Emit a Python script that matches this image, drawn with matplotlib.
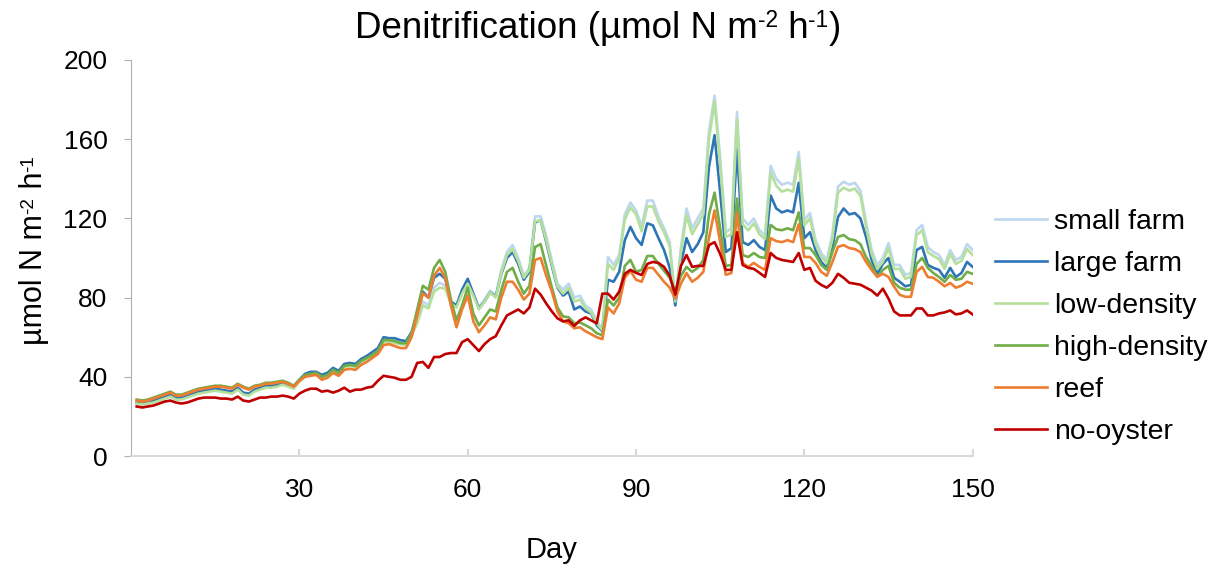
import numpy as np
import matplotlib
matplotlib.use("Agg")
import matplotlib.pyplot as plt
from matplotlib.transforms import offset_copy

plt.rcParams['font.family'] = ['Liberation Sans', 'DejaVu Sans']

# values, day 1..150
days = np.arange(1, 151)

small_farm = [
    26.5, 26, 26.5, 27.5, 28.5, 29.5, 30.5, 29, 29, 30,
    31, 32, 32.5, 33, 33.5, 33, 32.5, 32, 34, 31.5,
    31, 33, 34, 35, 35, 35.5, 36.5, 35.5, 34.5, 38,
    41, 42, 42, 40.5, 41.5, 44, 42.5, 46, 46.5, 46,
    48.5, 50, 52, 54, 59, 59, 59, 58, 57.5, 62,
    69, 78, 76, 85, 87.5, 86, 78, 76, 83, 88,
    82, 75, 79, 83.5, 81, 94, 103, 106.5, 100, 91,
    95, 121, 121, 111, 98.5, 87, 84, 87, 80, 81,
    76, 74, 68, 64, 100.5, 96.5, 101.5, 122, 128, 124,
    116, 129, 129, 121, 115, 108, 77.8, 105, 125, 115,
    120, 125, 164, 182, 150.5, 113, 115, 173.7, 120, 116.7,
    120, 114, 111.6, 146.5, 140, 137, 138, 137, 153.5, 119,
    122.7, 109, 102.5, 99, 112, 136, 138.5, 137, 138, 134,
    118, 104, 96.5, 100, 107.5, 96.5, 96.5, 91.5, 92.4, 114,
    116.7, 105.6, 103, 101.5, 96.5, 104, 99, 100.5, 107, 104]

large_farm = [
    27, 26.5, 27, 28, 29, 30, 31, 29.5, 29.5, 30.5,
    31.5, 32.5, 33, 33.5, 34, 33.5, 33, 32.5, 34.5, 32,
    31.5, 33.5, 34.5, 35.5, 35.5, 36, 37, 36, 35, 38.5,
    41.5, 42.5, 42.5, 41, 42, 44.5, 43, 46.5, 47, 46.5,
    49, 50.5, 52.5, 54.5, 60, 59.5, 59.5, 58.5, 58, 62.5,
    72, 83, 80, 90, 92, 89.5, 78, 76, 84, 89.5,
    82, 74.5, 78, 82.5, 80.5, 92, 100, 103, 97, 89,
    93, 118, 119, 108, 96, 85, 81, 83, 74, 75.5,
    73, 72, 66, 63, 89, 88, 93, 109, 115.7, 110,
    106.6, 117.5, 116.5, 110, 104, 95, 76, 97, 110, 103,
    107, 113, 146, 162, 133, 103, 105, 155, 108, 106.6,
    109, 105.6, 104, 131.5, 125, 123, 124, 123, 138, 110,
    113, 104, 98, 95, 105.6, 120.7, 125, 122, 122.7, 120,
    110.6, 99, 92, 97, 100, 90, 88, 85.7, 86.4, 104,
    105.6, 96.5, 95, 94, 90, 95, 90.4, 92.4, 98, 95.5]

low_density = [
    26.5, 26, 26.5, 27, 28, 29, 30, 28.5, 28.5, 29.5,
    30.5, 31.5, 32, 32.5, 33, 32.5, 32, 31.5, 33.5, 31,
    30.5, 32.5, 33.5, 34.5, 34.5, 35, 36, 35, 34, 37.5,
    40, 41, 41, 39.5, 40.5, 43, 41.5, 45, 45.5, 45,
    47.5, 49, 51, 53, 57.5, 57.5, 57, 56.5, 56, 61,
    67, 76, 74.5, 83, 85, 84.5, 77, 75, 82, 87,
    81, 74, 78, 82.5, 80, 92.5, 101.5, 104.5, 98.5, 90,
    94, 118.5, 119, 109, 97, 85.5, 82, 85, 78, 79,
    74.5, 72.5, 67, 63.5, 97, 94, 99.5, 119.5, 125.5, 122,
    113.5, 126, 126, 118.5, 113, 106, 78, 103, 121.5, 112,
    117, 122, 160, 179, 147, 110.5, 112, 170, 117, 114,
    117.5, 112, 109.5, 143, 136.5, 133.5, 134.5, 133.5, 150, 116.5,
    120, 107, 100.5, 97.5, 109.5, 133, 135.5, 134, 135, 131.5,
    116, 102, 94.5, 98, 105, 94.5, 94.5, 89.5, 90.5, 111.5,
    114, 103, 101, 99.5, 94.5, 102, 97, 98.5, 104.5, 101.5]

high_density = [
    28.5, 28, 28.5, 29.5, 30.5, 31.5, 32.5, 31, 31, 32,
    33, 34, 34.5, 35, 35.5, 35.5, 35, 34.5, 36.5, 35,
    34, 35.5, 36, 37, 37, 37.5, 38, 37, 35.5, 38.5,
    41, 41.5, 42, 40, 41, 43.5, 42, 45.5, 46, 45.5,
    48, 49.5, 51, 53, 58.5, 58.5, 58, 57, 57, 62,
    74, 86, 84, 95, 99, 93, 79, 68.5, 76, 85,
    72, 66, 70, 74, 73, 84, 93, 95, 88, 82,
    86, 105.5, 107, 96, 85, 75, 70.5, 70, 67, 67.5,
    66, 64.5, 62, 61, 79, 76, 80, 96, 99, 93,
    94, 101, 101, 97, 93.5, 90, 83, 91, 95.5, 93,
    95, 99, 122, 133, 115, 96, 96.5, 130, 101.5, 100.5,
    102.5, 100.5, 100, 116.7, 114.5, 114, 115, 114, 123, 105,
    105, 101.5, 96.5, 94, 103, 110.6, 111.6, 109.5, 109, 107,
    100.5, 96, 90.5, 94, 96, 87.5, 85, 84, 84, 97,
    100, 95, 92.4, 90.4, 88, 91.4, 89, 89.5, 93, 92]

reef = [
    28, 27.5, 28, 29, 30, 31, 32, 30.5, 30.5, 31.5,
    32.5, 33.5, 34, 34.5, 35, 35, 34.5, 34, 36, 34.5,
    33.5, 35, 35.5, 36.5, 36.5, 37, 37.5, 36.5, 35, 38,
    40, 40.5, 41, 38.5, 39.5, 42, 40.5, 43.5, 44, 43.5,
    46, 47.5, 49.5, 51.5, 56, 56.5, 55.5, 54.5, 54.5, 60,
    71, 82, 80, 91, 95, 90, 76, 65, 74, 81,
    68, 62.5, 66, 70, 69, 80, 88, 88, 84, 79,
    82, 99, 100, 91, 83, 73, 68, 67, 64.5, 65,
    63, 61.5, 60, 59, 75, 72, 77, 90, 93.5, 89,
    88, 95, 95, 91.5, 88, 85, 79.5, 87, 92.4, 88,
    90, 93, 110, 124, 108, 91.5, 92.4, 122.7, 97.5, 95.5,
    97.5, 95.5, 94, 110, 108.5, 108, 109, 108, 117, 100.5,
    100.5, 97.5, 93, 91, 98, 105.6, 106.5, 105, 104.5, 103,
    98, 94, 90.5, 92, 90.4, 85.5, 81.4, 80.4, 80.4, 93,
    95.5, 90.4, 90, 88, 85.7, 87.4, 85, 86, 88, 87]

no_oyster = [
    25, 24.5, 25, 25.5, 26.5, 27.5, 28, 27, 26.5, 27,
    28, 29, 29.5, 29.5, 29.5, 29, 29, 28.5, 30, 28,
    27.5, 28.5, 29.5, 29.5, 30, 30, 30.5, 30, 29, 31.5,
    33, 34, 34, 32.5, 33, 32, 33, 34.5, 32.5, 33.5,
    33.5, 34.5, 35, 38, 40.5, 40, 39.5, 38.5, 38.5, 40,
    47, 47.5, 44.5, 50, 50, 51.5, 52, 52, 57.5, 59,
    56, 53, 56.5, 59, 60.5, 66, 71, 72.5, 74, 72,
    75, 84.5, 81.5, 77, 73, 69.5, 68, 68.5, 65.7, 68.5,
    70, 68.5, 67, 82, 82, 79, 83, 92, 94, 92.5,
    91.4, 97, 98, 97.5, 95.5, 91, 81.5, 96, 101.5, 95.5,
    96, 96, 106.5, 108, 102, 94, 94, 113, 96.5, 95,
    94.5, 92.5, 90.4, 102.5, 100, 99, 98.5, 98, 102.5, 94,
    95, 88.5, 86.4, 85, 87.5, 92, 90, 87.5, 87, 86.5,
    85, 83.5, 81, 84.5, 79.5, 73, 71, 71, 71, 74.5,
    74.5, 71, 71, 72, 72.5, 73.5, 71.5, 72, 73.5, 71.5]

series = [
    ('small farm', small_farm, '#bdd7ee'),
    ('large farm', large_farm, '#2e75b6'),
    ('low-density', low_density, '#b4e09c'),
    ('high-density', high_density, '#70ad47'),
    ('reef', reef, '#ed7d31'),
    ('no-oyster', no_oyster, '#c00000'),
]

fig = plt.figure(figsize=(12.25, 5.71), dpi=100)
ax = fig.add_axes([0.107, 0.2014, 0.687, 0.6936])


def rich_text(x, y, parts, size, vertical=False):
    # pieces of text laid end to end, small raised pieces for the exponents
    r = fig.canvas.get_renderer()
    widths = []
    for s, sup in parts:
        t = fig.text(0, 0, s, fontsize=size * 0.62 if sup else size)
        widths.append(t.get_window_extent(r).width * 72 / fig.dpi)
        t.remove()
    off = -sum(widths) / 2
    for (s, sup), w in zip(parts, widths):
        fs = size * 0.62 if sup else size
        rise = size * 0.3 if sup else 0
        if vertical:
            tr = offset_copy(fig.transFigure, fig, x=-rise, y=off, units='points')
            fig.text(x, y, s, fontsize=fs, rotation=90, rotation_mode='anchor',
                     ha='left', va='baseline', transform=tr)
        else:
            tr = offset_copy(fig.transFigure, fig, x=off, y=rise, units='points')
            fig.text(x, y, s, fontsize=fs, ha='left', va='baseline', transform=tr)
        off += w


for name, vals, col in series:
    ax.plot(days, vals, color=col, lw=1.9, label=name, solid_joinstyle='round')

ax.set_xlim(0, 150)
ax.set_ylim(0, 200)
ax.set_xticks([30, 60, 90, 120, 150])
ax.set_yticks([0, 40, 80, 120, 160, 200])

for s in ['top', 'right']:
    ax.spines[s].set_visible(False)
ax.spines['left'].set_color('#b0b0b0')
ax.spines['bottom'].set_color('#d9d9d9')
ax.spines['bottom'].set_linewidth(1.5)
ax.tick_params(axis='y', direction='out', length=5, color='#b0b0b0',
               labelsize=19, pad=12)
ax.tick_params(axis='x', direction='in', length=5, color='#d9d9d9', width=1.5,
               labelsize=19, pad=16)

ax.set_xlabel('Day', fontsize=21, labelpad=24)

unit_parts = [('µmol N m', False), ('-2', True), (' h', False), ('-1', True)]
rich_text(0.0345, 0.562, unit_parts, 22, vertical=True)
rich_text(0.488, 0.9335, [('Denitrification (', False)] + unit_parts + [(')', False)], 26.5)

ax.legend(loc='center left', bbox_to_anchor=(0.812, 0.427),
          bbox_transform=fig.transFigure, frameon=False, fontsize=20.5,
          borderpad=0, borderaxespad=0,
          handlelength=1.85, handletextpad=0.25, labelspacing=0.56)

fig.savefig('out.png', dpi=100)
